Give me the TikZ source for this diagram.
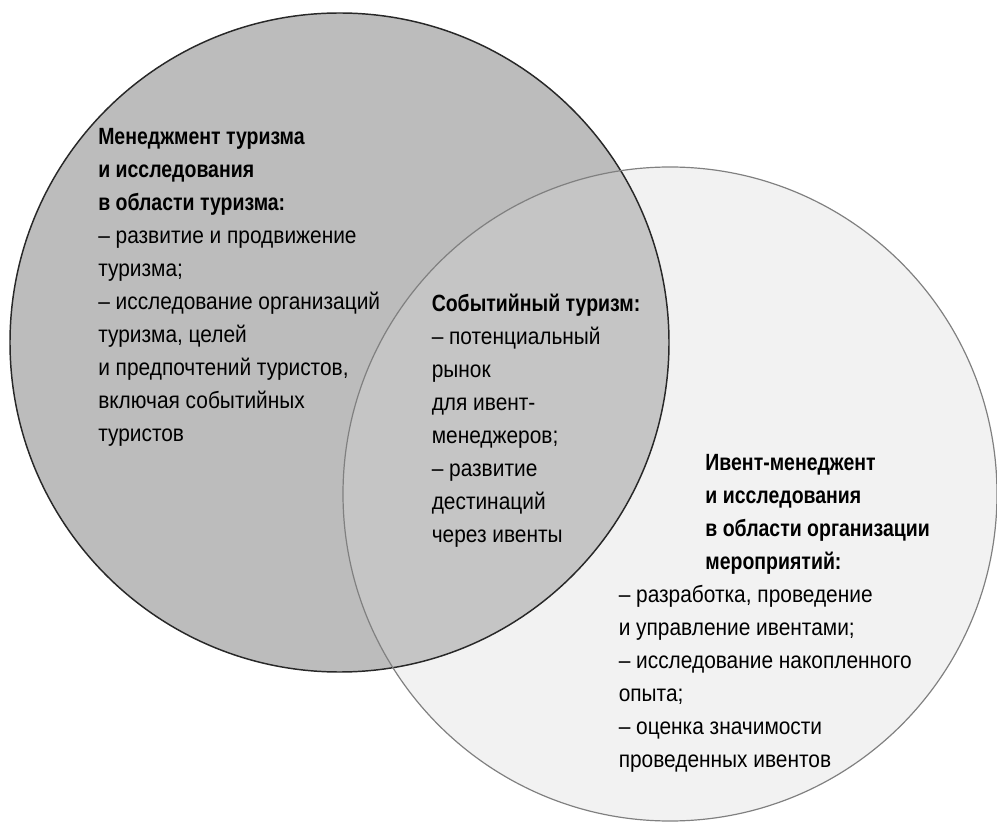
\documentclass[tikz,border=0pt]{standalone}
\usepackage{fontspec}
\setmainfont{Liberation Sans}[FakeStretch=0.89,BoldFeatures={FakeStretch=0.83}]

\definecolor{leftfill}{RGB}{188,188,188}
\definecolor{rightfill}{RGB}{216,216,216}
\definecolor{leftline}{RGB}{40,40,40}
\definecolor{rightline}{RGB}{128,128,128}

\tikzset{
  venntext/.style={anchor=base west, align=left, inner sep=0pt,
    font=\fontsize{17.6}{24.75}\selectfont},
}

\begin{document}
\begin{tikzpicture}[x=0.75pt,y=0.75pt,yscale=-1,xscale=1]
\useasboundingbox (0,0) rectangle (997,827);

%Shape: Circle [left, tourism]
\fill [leftfill] (339.5,342.5) circle [radius=329.5];
%Shape: Circle [right, events]
\fill [rightfill, fill opacity=0.33] (670,494) circle [radius=327];
\draw [leftline, line width=1.1pt] (339.5,342.5) circle [radius=329.5];
\draw [rightline, line width=0.9pt] (670,494) circle [radius=327];

% Text Node (base = last line)
\node (tourism) [venntext] at (98,441) {\textbf{Менеджмент туризма}\\
\textbf{и исследования}\\
\textbf{в области туризма:}\\
– развитие и продвижение\\
туризма;\\
– исследование организаций\\
туризма, целей\\
и предпочтений туристов,\\
включая событийных\\
туристов};
% Text Node
\node (eventtourism) [venntext] at (431.5,542.7) {\textbf{Событийный туризм:}\\
– потенциальный\\
рынок\\
для ивент-\\
менеджеров;\\
– развитие\\
дестинаций\\
через ивенты};
% Text Node
\node (eventmgmt) [venntext] at (618.5,767) {\hspace*{65pt}\textbf{Ивент-менеджент}\\
\hspace*{65pt}\textbf{и исследования}\\
\hspace*{65pt}\textbf{в области организации}\\
\hspace*{65pt}\textbf{мероприятий:}\\
– разработка, проведение\\
и управление ивентами;\\
– исследование накопленного\\
опыта;\\
– оценка значимости\\
проведенных ивентов};

\end{tikzpicture}
\end{document}
